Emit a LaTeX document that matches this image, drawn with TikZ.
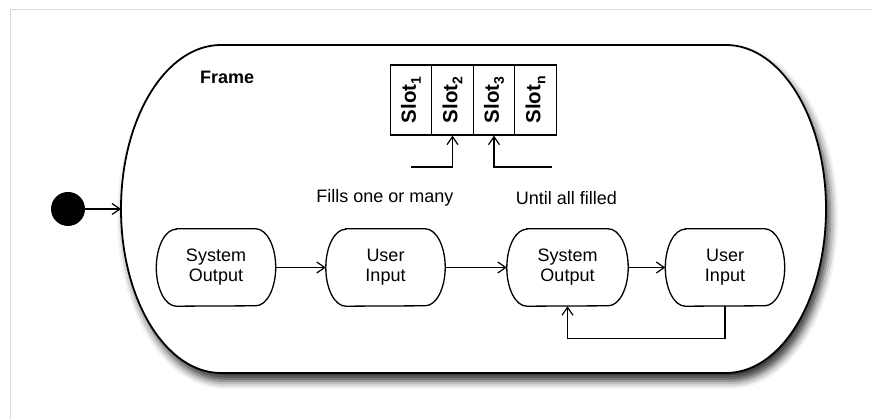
\documentclass[tikz,border=0pt]{standalone}
\usepackage{fontspec}
\setmainfont{Liberation Sans}
\usetikzlibrary{arrows.meta,shadows.blur,calc}

\newcommand{\slotsub}[1]{\raisebox{-5pt}{\fontsize{14}{14}\selectfont #1}}

\begin{document}
\begin{tikzpicture}[x=1pt,y=1pt,
  every node/.style={font=\fontsize{18}{20}\selectfont},
  flow/.style={line width=1.2pt,-{Straight Barb[length=8pt,width=11pt,line width=1.2pt]}},
  statebox/.style={minimum width=119pt,minimum height=77pt,inner sep=0pt,align=center},
  stateline/.style={line width=1.3pt},
  slotcell/.style={draw,line width=1.3pt,minimum width=41.5pt,minimum height=70pt,inner sep=0pt,
    font=\fontsize{20.5}{22}\selectfont\bfseries},
  framestyle/.style={draw,line width=1.8pt,fill=white,
    blur shadow={shadow xshift=4pt,shadow yshift=-8pt,shadow blur radius=8pt,shadow opacity=80}}]

\useasboundingbox (0,0) rectangle (872,419);
% page border
\draw[black!15,line width=1pt] (10,0) -- (10,409) -- (872,409);

% the frame container with elliptical ends
\path[framestyle] (221,374) -- (726,374)
  arc[start angle=90,end angle=-90,x radius=100,y radius=164]
  -- (221,46)
  arc[start angle=270,end angle=90,x radius=100,y radius=164] -- cycle;
\coordinate (framewest) at (121,210);
\node[font=\fontsize{18}{20}\selectfont\bfseries,anchor=west,inner sep=0pt] (framelabel) at (200,342) {Frame};

% slots
\node[slotcell] (s1) at (411,319)   {\rotatebox{90}{Slot\slotsub{1}}};
\node[slotcell] (s2) at (452.5,319) {\rotatebox{90}{Slot\slotsub{2}}};
\node[slotcell] (s3) at (494,319)   {\rotatebox{90}{Slot\slotsub{3}}};
\node[slotcell] (s4) at (535.5,319) {\rotatebox{90}{Slot\slotsub{n}}};

\coordinate (fillsin) at (411,252);
\coordinate (untilin) at (552,252);
\draw[flow] (fillsin) -| (s2.south);
\draw[flow] (untilin) -| (s3.south);

\node (fills) at (385,221) {Fills one or many};
\node (until) at (566.5,221) {Until all filled};

% initial state
\node[circle,fill=black,minimum size=34pt,inner sep=0pt] (init) at (68,210) {};
\draw[flow] (init) -- (framewest);

% states
\node[statebox] (so1) at (216,151.5)   {System\\Output};
\node[statebox] (ui1) at (385.5,151.5) {User\\Input};
\node[statebox,minimum width=121pt] (so2) at (567.5,151.5) {System\\Output};
\node[statebox] (ui2) at (725,151.5)   {User\\Input};

\foreach \n in {so1,ui1,so2,ui2}
  \draw[stateline] ($(\n.north west)+(20,0)$) -- ($(\n.north east)+(-20,0)$)
    arc[start angle=90,end angle=-90,x radius=20,y radius=38.5]
    -- ($(\n.south west)+(20,0)$)
    arc[start angle=270,end angle=90,x radius=20,y radius=38.5] -- cycle;

\draw[flow] (so1) -- (ui1);
\draw[flow] (ui1) -- (so2);
\draw[flow] (so2) -- (ui2);
\draw[flow] (ui2.south) -- ++(0,-32) -| (so2.south);
\end{tikzpicture}
\end{document}
